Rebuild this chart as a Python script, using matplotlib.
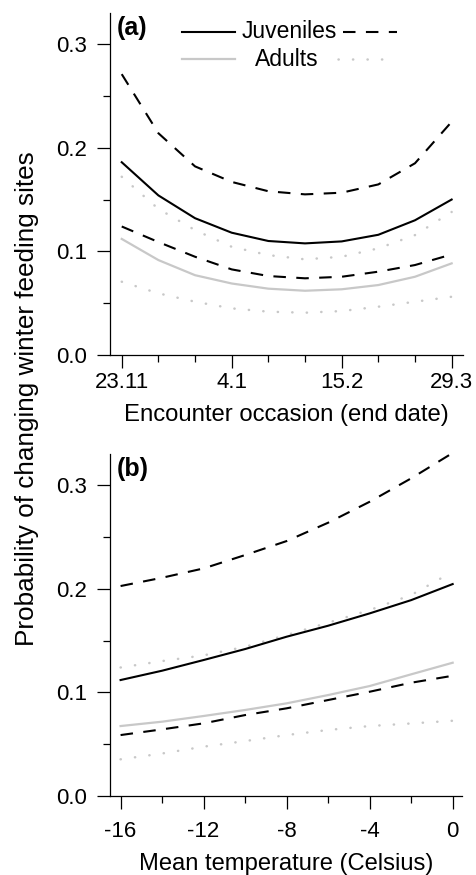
import matplotlib.pyplot as plt
from matplotlib.lines import Line2D

plt.rcParams['font.family'] = ['Liberation Sans', 'DejaVu Sans']

# panel (a): encounter occasions (10 occasions, every third labelled)
occasion = list(range(10))
occasion_ticks = [0, 3, 6, 9]
occasion_labels = ['23.11', '4.1', '15.2', '29.3']

juv_a = [0.186, 0.154, 0.132, 0.118, 0.110, 0.1077, 0.1096, 0.116, 0.130, 0.150]
juv_a_hi = [0.271, 0.214, 0.182, 0.167, 0.158, 0.155, 0.1566, 0.1646, 0.185, 0.225]
juv_a_lo = [0.124, 0.109, 0.0948, 0.0826, 0.0762, 0.074, 0.0755, 0.0804, 0.0868, 0.097]
ad_a = [0.112, 0.0916, 0.077, 0.069, 0.064, 0.062, 0.0634, 0.0675, 0.0755, 0.0884]
ad_a_hi = [0.172, 0.141, 0.1205, 0.1044, 0.0964, 0.0923, 0.0948, 0.1029, 0.1157, 0.138]
ad_a_lo = [0.0707, 0.0595, 0.0514, 0.045, 0.0418, 0.0408, 0.0424, 0.0466, 0.0514, 0.0562]

# panel (b): mean temperature
temp = [-16, -14, -12, -10, -8, -6, -4, -2, 0]
temp_ticks = [-16, -12, -8, -4, 0]
temp_minor = [-14, -10, -6, -2]

juv_b = [0.1119, 0.1209, 0.1312, 0.1418, 0.1537, 0.1643, 0.1762, 0.189, 0.2045]
juv_b_hi = [0.2026, 0.2106, 0.2196, 0.2325, 0.246, 0.2637, 0.2839, 0.3065, 0.331]
juv_b_lo = [0.0588, 0.0643, 0.0701, 0.0781, 0.0846, 0.0926, 0.1006, 0.1093, 0.116]
ad_b = [0.0675, 0.0717, 0.0772, 0.083, 0.0894, 0.0974, 0.1061, 0.1174, 0.1286]
ad_b_hi = [0.124, 0.1302, 0.1357, 0.144, 0.1553, 0.1672, 0.1794, 0.1939, 0.2164]
ad_b_lo = [0.0354, 0.041, 0.0476, 0.053, 0.0588, 0.0637, 0.0675, 0.070, 0.0726]

BLACK = 'black'
GREY = '#c8c8c8'
DASH = (0, (6, 5))
DOT = (0, (0.1, 5.7))


def draw_panel(ax, x, juv, juv_hi, juv_lo, ad, ad_hi, ad_lo, xpad):
    ax.plot(x, ad_hi, color=GREY, lw=1.8, ls=DOT, dash_capstyle='round')
    ax.plot(x, ad_lo, color=GREY, lw=1.8, ls=DOT, dash_capstyle='round')
    ax.plot(x, ad, color=GREY, lw=1.6)
    ax.plot(x, juv_hi, color=BLACK, lw=1.5, ls=DASH)
    ax.plot(x, juv_lo, color=BLACK, lw=1.5, ls=DASH)
    ax.plot(x, juv, color=BLACK, lw=1.5)
    ax.set_ylim(0, 0.33)
    ax.set_yticks([0, 0.1, 0.2, 0.3])
    ax.set_yticklabels(['0.0', '0.1', '0.2', '0.3'])
    ax.set_yticks([0.05, 0.15, 0.25], minor=True)
    for s in ['top', 'right']:
        ax.spines[s].set_visible(False)
    for s in ['left', 'bottom']:
        ax.spines[s].set_linewidth(0.9)
    ax.tick_params(which='major', length=9.4, width=0.9, labelsize=16)
    ax.tick_params(which='minor', length=5, width=0.9)
    ax.tick_params(axis='y', which='major', pad=7)
    ax.tick_params(axis='x', which='major', pad=xpad)


fig = plt.figure(figsize=(4.76, 8.75), dpi=100)
W, H = 476, 875
ax1 = fig.add_axes([110 / W, 1 - 355 / H, 353 / W, 342 / H])
ax2 = fig.add_axes([110 / W, 1 - 796 / H, 352 / W, 342 / H])

draw_panel(ax1, occasion, juv_a, juv_a_hi, juv_a_lo, ad_a, ad_a_hi, ad_a_lo, 2.5)
ax1.set_xlim(-0.32, 9.31)
ax1.set_xticks(occasion_ticks)
ax1.set_xticklabels(occasion_labels)
ax1.set_xticks([i for i in occasion if i not in occasion_ticks], minor=True)
ax1.set_xlabel('Encounter occasion (end date)', fontsize=17.2, labelpad=8)
ax1.text(0.02, 0.99, '(a)', transform=ax1.transAxes, fontsize=18,
         fontweight='bold', va='top', ha='left')

# legend drawn by hand: line - label - line
lt = ax1.transAxes
ax1.add_line(Line2D([0.203, 0.353], [0.945, 0.945], transform=lt, color=BLACK, lw=1.5))
ax1.add_line(Line2D([0.66, 0.813], [0.945, 0.945], transform=lt, color=BLACK, lw=1.5, ls=DASH))
ax1.add_line(Line2D([0.203, 0.353], [0.865, 0.865], transform=lt, color=GREY, lw=1.6))
ax1.add_line(Line2D([0.646, 0.78], [0.865, 0.865], transform=lt, color=GREY, lw=1.8, ls=DOT,
                    dash_capstyle='round'))
ax1.text(0.374, 0.945, 'Juveniles', transform=lt, fontsize=16.5, va='center', ha='left')
ax1.text(0.41, 0.865, 'Adults', transform=lt, fontsize=16.5, va='center', ha='left')

draw_panel(ax2, temp, juv_b, juv_b_hi, juv_b_lo, ad_b, ad_b_hi, ad_b_lo, 8.5)
ax2.set_xlim(-16.51, 0.45)
ax2.set_xticks(temp_ticks)
ax2.set_xticklabels([str(t) for t in temp_ticks])
ax2.set_xticks(temp_minor, minor=True)
ax2.set_xlabel('Mean temperature (Celsius)', fontsize=17.1, labelpad=8)
ax2.text(0.02, 0.99, '(b)', transform=ax2.transAxes, fontsize=18,
         fontweight='bold', va='top', ha='left')

fig.text(27 / W, 1 - 399 / H, 'Probability of changing winter feeding sites',
         rotation=90, fontsize=18.8, va='center', ha='center')

fig.savefig('out.png', dpi=100)
